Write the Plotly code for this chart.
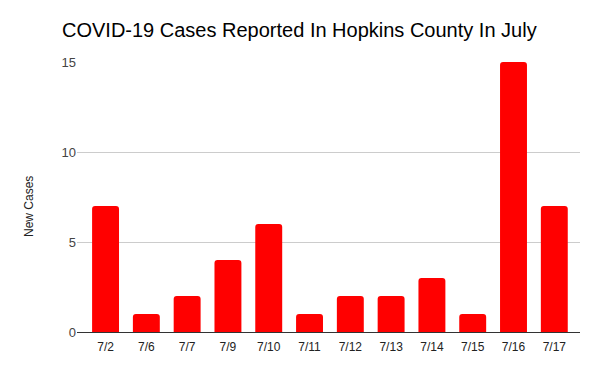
import plotly.graph_objects as go

dates = ["7/2", "7/6", "7/7", "7/9", "7/10", "7/11", "7/12", "7/13", "7/14", "7/15", "7/16", "7/17"]
new_cases = [7, 1, 2, 4, 6, 1, 2, 2, 3, 1, 15, 7]
y_ticks = [0, 5, 10, 15]

# page body has an 8px margin, so the figure is sized to fit the 600x371 window
W, H = 592, 363

fig = go.Figure(go.Bar(
    x=list(range(len(dates))),
    y=new_cases,
    marker=dict(color="#ff0000", line=dict(width=0), cornerradius=3),
    width=0.66,
))

fig.update_layout(
    width=W, height=H,
    margin=dict(l=69, r=20, t=54, b=39),
    paper_bgcolor="white", plot_bgcolor="white",
    font=dict(family="Liberation Sans, Arial, sans-serif", size=12, color="#444"),
    title=dict(text="COVID-19 Cases Reported In Hopkins County In July",
               x=54/W, xanchor="left", y=1-22/H, yanchor="middle",
               font=dict(size=20, color="#000")),
    showlegend=False,
    bargap=0.34,
    annotations=[dict(
        text="New Cases", textangle=-90, showarrow=False,
        xref="paper", yref="paper",
        x=-(69-21)/(W-69-20), xanchor="center",
        y=1-(199-54)/(H-54-39), yanchor="middle",
        font=dict(size=12, color="#222"),
    )],
)
fig.update_xaxes(
    tickmode="array", tickvals=list(range(len(dates))), ticktext=dates,
    range=[-0.70, 11.63], showgrid=False, showline=False, zeroline=False,
    ticks="", ticklabelstandoff=6, tickfont=dict(size=12, color="#222"),
)
fig.update_yaxes(
    range=[0, 15], tickvals=y_ticks, showgrid=True, gridcolor="#cccccc", gridwidth=1,
    zeroline=True, zerolinecolor="#333333", zerolinewidth=1.3,
    showline=False, ticks="", ticksuffix=" ",
    tickfont=dict(size=13, color="#444"),
)

fig.write_html("out.html")
